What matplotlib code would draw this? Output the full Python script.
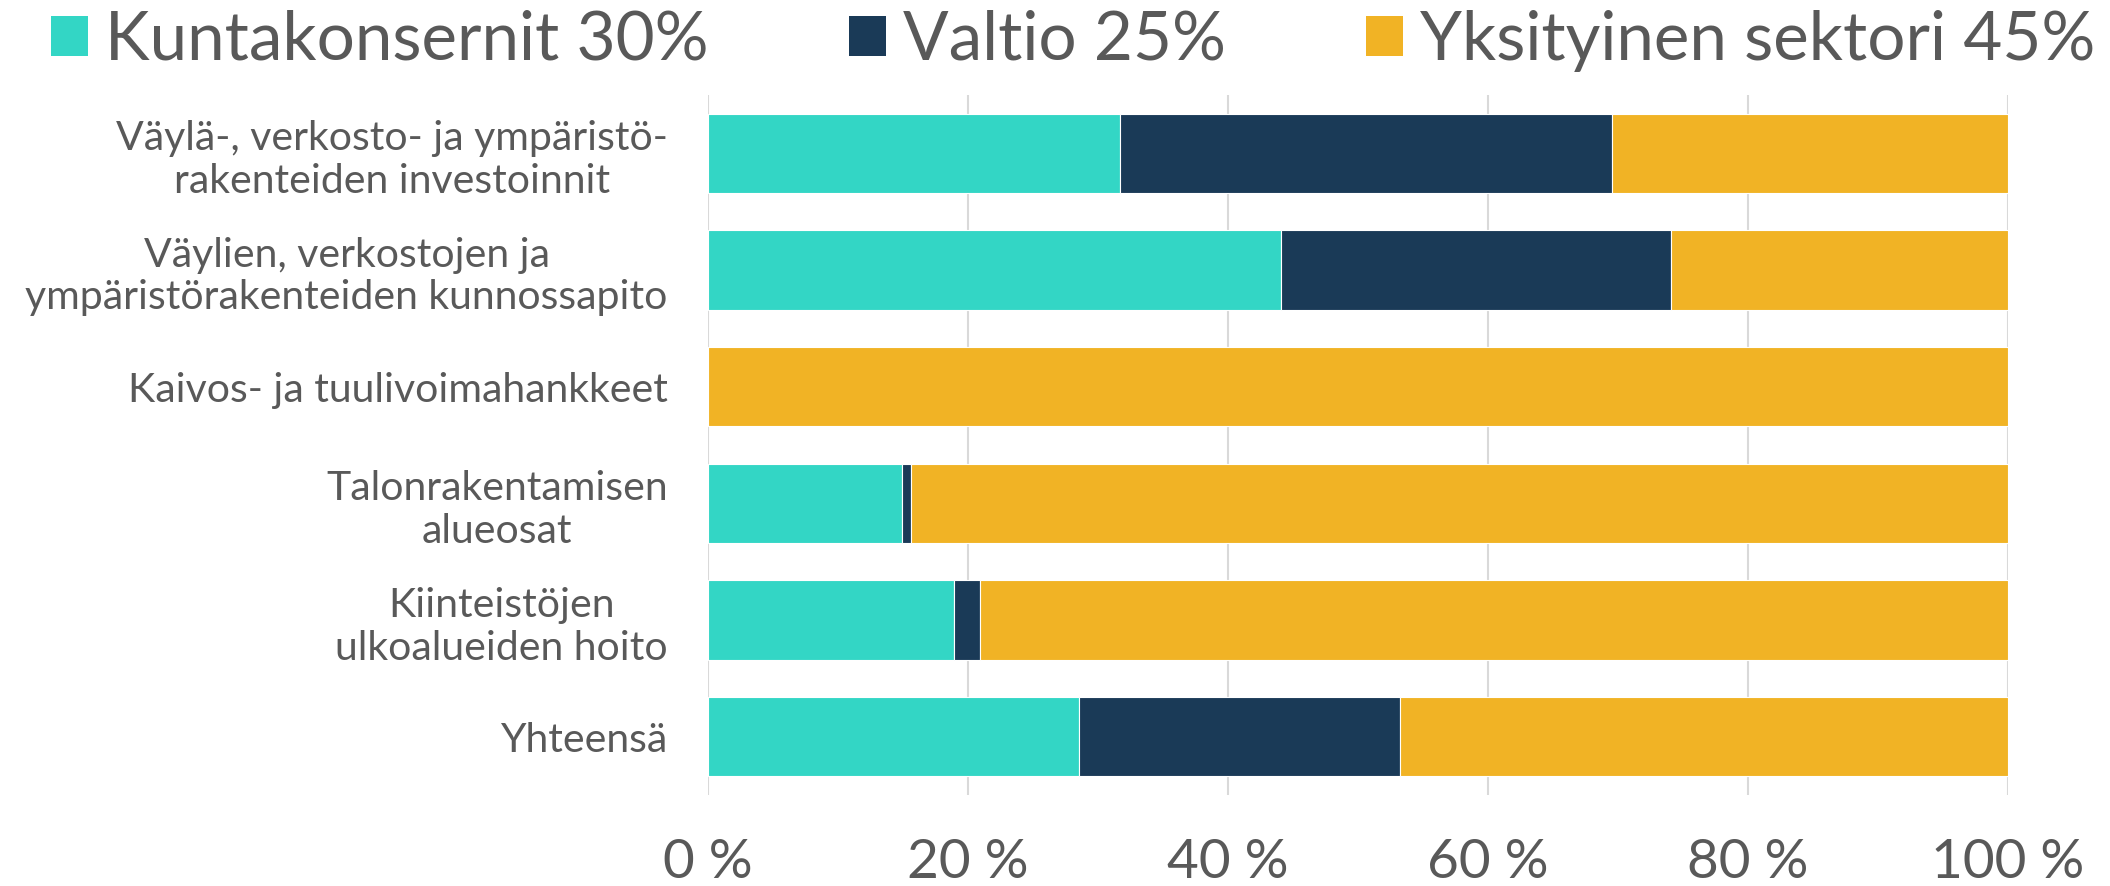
import matplotlib
matplotlib.use("Agg")
import matplotlib.pyplot as plt
import matplotlib.ticker as mtick
from matplotlib.patches import Patch
import numpy as np

categories = [
    "Väylä-, verkosto- ja ympäristö-\nrakenteiden investoinnit",
    "Väylien, verkostojen ja\nympäristörakenteiden kunnossapito",
    "Kaivos- ja tuulivoimahankkeet",
    "Talonrakentamisen\nalueosat",
    "Kiinteistöjen\nulkoalueiden hoito",
    "Yhteensä",
]
kunta = [31.7, 44.1, 0.0, 14.9, 18.9, 28.5]
valtio = [37.8, 30.0, 0.0, 0.7, 2.0, 24.7]
yksityinen = [30.5, 25.9, 100.0, 84.4, 79.1, 46.8]
series_names = ["Kuntakonsernit 30%", "Valtio 25%", "Yksityinen sektori 45%"]
x_ticks = [0, 20, 40, 60, 80, 100]

colors = ["#33D6C5", "#1A3A57", "#F1B325"]
text_color = "#595959"

plt.rcParams["font.family"] = ["Lato", "DejaVu Sans"]

fig = plt.figure(figsize=(21.1, 8.86), dpi=100)
ax = fig.add_axes([708 / 2110, 1 - 795 / 886, 1300 / 2110, 700 / 886])

y = np.arange(len(categories))
left = np.zeros(len(categories))
for vals, col in zip([kunta, valtio, yksityinen], colors):
    ax.barh(y, vals, left=left, height=0.68, color=col,
            edgecolor="white", linewidth=0.8, zorder=3)
    left = left + np.array(vals)

ax.set_xlim(0, 100)
ax.set_ylim(len(categories) - 0.5, -0.5)
ax.set_xticks(x_ticks)
ax.xaxis.set_major_formatter(mtick.FuncFormatter(lambda v, p: f"{v:.0f} %"))
ax.set_yticks(y)
ax.set_yticklabels(categories, multialignment="center")
ax.tick_params(axis="x", length=0, pad=31, labelsize=39.5, labelcolor=text_color)
ax.tick_params(axis="y", length=0, pad=29, labelsize=29.5, labelcolor=text_color)
ax.grid(axis="x", color="#D9D9D9", linewidth=1.5, zorder=0)
for s in ax.spines.values():
    s.set_visible(False)

handles = [Patch(facecolor=c, edgecolor="none") for c in colors]
fs = 48.5
fig.legend(handles, series_names, loc="center left",
           bbox_to_anchor=(51 / 2110, 1 - 41 / 886), ncol=3, frameon=False,
           fontsize=fs, labelcolor=text_color, borderpad=0, borderaxespad=0,
           handlelength=0.55, handleheight=0.55, handletextpad=0.25,
           columnspacing=2.08)

fig.savefig("out.png", dpi=100)
